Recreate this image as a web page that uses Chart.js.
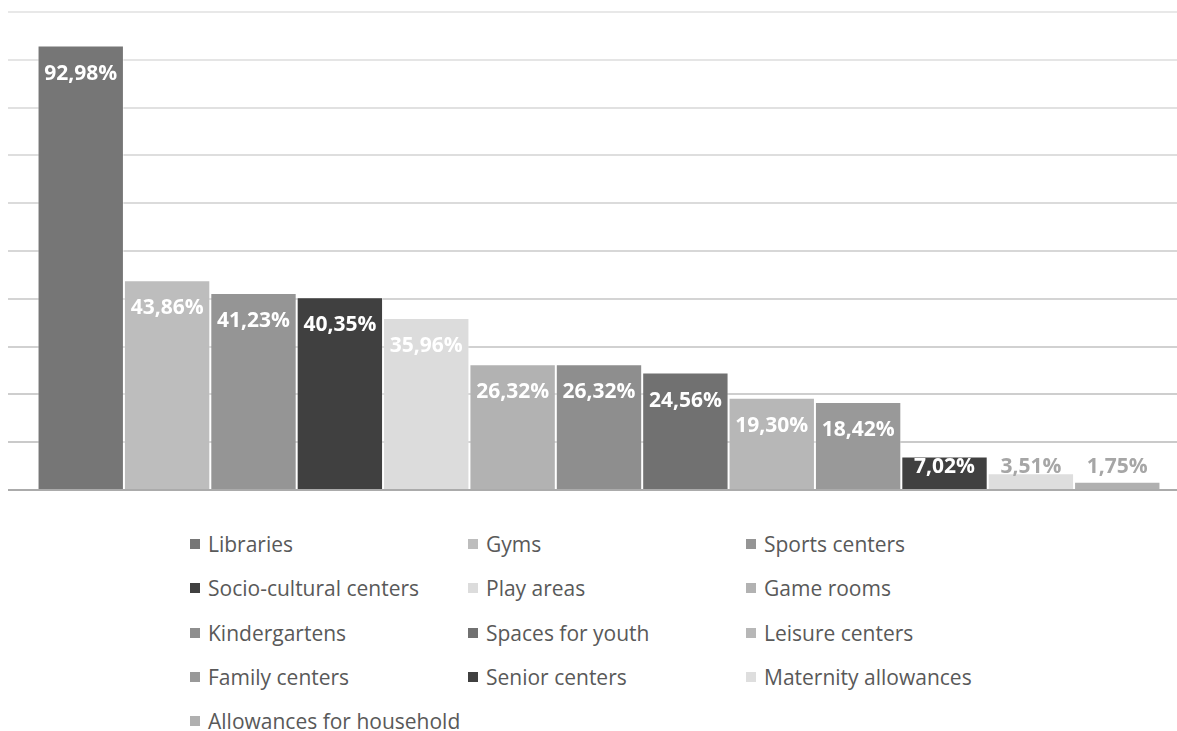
<!DOCTYPE html>
<html>
<head>
<meta charset="utf-8">
<script src="https://cdn.jsdelivr.net/npm/chart.js@4.4.1/dist/chart.umd.min.js"></script>
<style>
  html, body { margin: 0; padding: 0; background: #fff; overflow: hidden; }
  #wrap { position: relative; width: 1190px; height: 500px; }
  #legend {
    position: absolute; left: 190px; top: 522px;
    display: grid; grid-template-columns: 278px 278px 278px; grid-auto-rows: 44.3px;
    font-family: "Open Sans", sans-serif; font-size: 21px; color: #595959;
  }
  #legend .item { display: flex; align-items: center; white-space: nowrap; }
  #legend .box { width: 10px; height: 10px; margin-right: 8px; flex: none; }
</style>
</head>
<body>
<div id="wrap"><canvas id="chart"></canvas></div>
<div id="legend"></div>
<script>
document.addEventListener('DOMContentLoaded', function () {
    const facilities = ['Libraries', 'Gyms', 'Sports centers', 'Socio-cultural centers', 'Play areas',
        'Game rooms', 'Kindergartens', 'Spaces for youth', 'Leisure centers', 'Family centers',
        'Senior centers', 'Maternity allowances', 'Allowances for household'];
    const shares = [92.98, 43.86, 41.23, 40.35, 35.96, 26.32, 26.32, 24.56, 19.30, 18.42, 7.02, 3.51, 1.75];
    const colors = ['#767676', '#bdbdbd', '#959595', '#404040', '#dcdcdc', '#b2b2b2', '#8e8e8e',
        '#717171', '#b7b7b7', '#999999', '#404040', '#dedede', '#b0b0b0'];

    const datasets = facilities.map((name, i) => ({
        label: name,
        data: [shares[i]],
        backgroundColor: colors[i],
        borderColor: 'rgba(255,255,255,0.45)',
        borderWidth: 1
    }));

    // percentage labels at the top of each bar, Excel style
    const barLabels = {
        id: 'barLabels',
        afterDraw(chart) {
            const ctx = chart.ctx;
            const base = chart.scales.y.getPixelForValue(0);
            ctx.save();
            ctx.font = 'bold 21px "Open Sans", sans-serif';
            ctx.textAlign = 'center';
            ctx.textBaseline = 'middle';
            chart.data.datasets.forEach((ds, i) => {
                const bar = chart.getDatasetMeta(i).data[0];
                const h = base - bar.y;
                const y = Math.min(bar.y + 27, base - 24);
                ctx.fillStyle = h > 25 ? '#ffffff' : '#a6a6a6';
                ctx.fillText(ds.data[0].toFixed(2).replace('.', ',') + '%', bar.x, y + 1);
            });
            ctx.restore();
        }
    };

    const ctx = document.getElementById('chart').getContext('2d');
    const chart = new Chart(ctx, {
        type: 'bar',
        data: { labels: [''], datasets: datasets },
        options: {
            responsive: true,
            maintainAspectRatio: false,
            animation: false,
            layout: { padding: { top: 12, left: 8, right: 0, bottom: 10 } },
            datasets: { bar: { categoryPercentage: 0.95, barPercentage: 1 } },
            plugins: { legend: { display: false }, tooltip: { enabled: false } },
            scales: {
                x: { display: false },
                y: {
                    min: 0, max: 100,
                    z: 1,
                    ticks: { display: false, stepSize: 10 },
                    border: { display: false },
                    grid: {
                        drawTicks: false,
                        lineWidth: 2,
                        color: c => c.tick.value === 0 ? 'rgba(0,0,0,0.33)'
                            : 'rgba(0,0,0,' + (0.22 - c.tick.value / 100 * 0.13).toFixed(3) + ')'
                    }
                }
            }
        },
        plugins: [barLabels]
    });

    const legend = document.getElementById('legend');
    chart.data.datasets.forEach(ds => {
        const item = document.createElement('div');
        item.className = 'item';
        const box = document.createElement('span');
        box.className = 'box';
        box.style.background = ds.backgroundColor;
        const txt = document.createElement('span');
        txt.textContent = ds.label;
        item.appendChild(box);
        item.appendChild(txt);
        legend.appendChild(item);
    });
});
</script>
</body>
</html>
